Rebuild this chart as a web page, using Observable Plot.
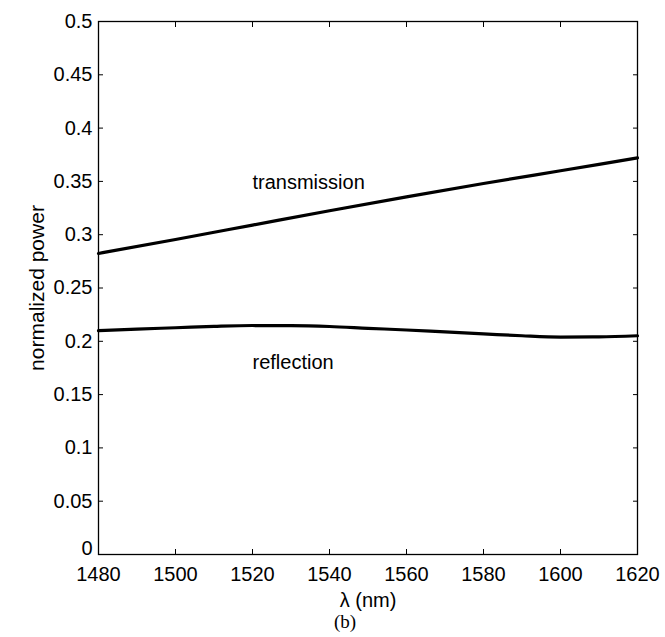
<!DOCTYPE html>
<html>
<head>
<meta charset="utf-8">
<script src="https://cdn.jsdelivr.net/npm/d3@7"></script>
<script src="https://cdn.jsdelivr.net/npm/@observablehq/plot@0.6"></script>
<style>
  html, body { margin: 0; padding: 0; background: #fff; }
  #chart svg { display: block; }
</style>
</head>
<body>
<div id="chart"></div>
<script>
const wavelengths = [1480, 1490, 1500, 1510, 1520, 1530, 1540, 1550, 1560, 1570, 1580, 1590, 1600, 1610, 1620];
const reflection = [0.2100, 0.2115, 0.2127, 0.2140, 0.2148, 0.2147, 0.2139, 0.2122, 0.2106, 0.2088, 0.2070, 0.2052, 0.2040, 0.2042, 0.2052];
const transWavelengths = [1480, 1500, 1520, 1540, 1560, 1580, 1600, 1620];
const transmission = [0.2824, 0.2955, 0.3090, 0.3225, 0.3355, 0.3480, 0.3600, 0.3720];
const xTicks = [1480, 1500, 1520, 1540, 1560, 1580, 1600, 1620];
const yTicks = [0, 0.05, 0.1, 0.15, 0.2, 0.25, 0.3, 0.35, 0.4, 0.45, 0.5];
const yTickLabels = ["0", "0.05", "0.1", "0.15", "0.2", "0.25", "0.3", "0.35", "0.4", "0.45", "0.5"];
const curveLabels = [
  {text: "transmission", x: 1520, y: 0.3493},
  {text: "reflection", x: 1520, y: 0.1796}
];
const xLabel = "λ (nm)";
const yLabel = "normalized power";
const caption = "(b)";

const reflData = wavelengths.map((w, i) => ({w, v: reflection[i]}));
const transData = transWavelengths.map((w, i) => ({w, v: transmission[i]}));

const font = "Liberation Sans, Arial, Helvetica, sans-serif";
const yTicksUpper = yTicks.filter(d => d !== 0);
const yTicksZero = yTicks.filter(d => d === 0);
const fmtY = d => yTickLabels[yTicks.indexOf(d)];

const chart = Plot.plot({
  width: 665,
  height: 637,
  marginLeft: 98,
  marginRight: 28,
  marginTop: 21,
  marginBottom: 83,
  style: {fontFamily: font, fontSize: "20px", color: "black", background: "white"},
  x: {domain: [1480, 1620]},
  y: {domain: [0, 0.5]},
  marks: [
    Plot.axisX({anchor: "bottom", ticks: xTicks, tickSize: -5, tickPadding: 17, fontSize: 20, label: null, tickFormat: d => String(d)}),
    Plot.axisX({anchor: "top", ticks: xTicks, tickSize: -5, label: null, tickFormat: () => ""}),
    Plot.axisY({anchor: "left", ticks: yTicksUpper, tickSize: -5, tickPadding: 11, fontSize: 20, label: null, tickFormat: fmtY}),
    Plot.axisY({anchor: "left", ticks: yTicksZero, tickSize: 0, tickPadding: 6, dy: -6, fontSize: 20, label: null, tickFormat: fmtY}),
    Plot.axisY({anchor: "right", ticks: yTicks, tickSize: -5, label: null, tickFormat: () => ""}),
    Plot.frame({stroke: "black", strokeWidth: 1.3}),
    Plot.line(transData, {x: "w", y: "v", stroke: "black", strokeWidth: 3.2, curve: "monotone-x"}),
    Plot.line(reflData, {x: "w", y: "v", stroke: "black", strokeWidth: 3.2, curve: "monotone-x"}),
    Plot.text(curveLabels, {x: "x", y: "y", text: "text", textAnchor: "start", lineAnchor: "middle", fontSize: 20, fill: "black"}),
    Plot.text([xLabel], {frameAnchor: "bottom", textAnchor: "middle", lineAnchor: "middle", dy: 45.6, fontSize: 20, fill: "black"}),
    Plot.text([yLabel], {frameAnchor: "left", textAnchor: "middle", lineAnchor: "middle", dx: -61.4, rotate: -90, fontSize: 21, fill: "black"}),
    Plot.text([caption], {frameAnchor: "bottom", textAnchor: "middle", lineAnchor: "middle", dx: -23, dy: 67, fontSize: 19, fill: "black", fontFamily: "Liberation Serif, Times New Roman, serif"})
  ]
});
document.getElementById("chart").appendChild(chart);
</script>
</body>
</html>
